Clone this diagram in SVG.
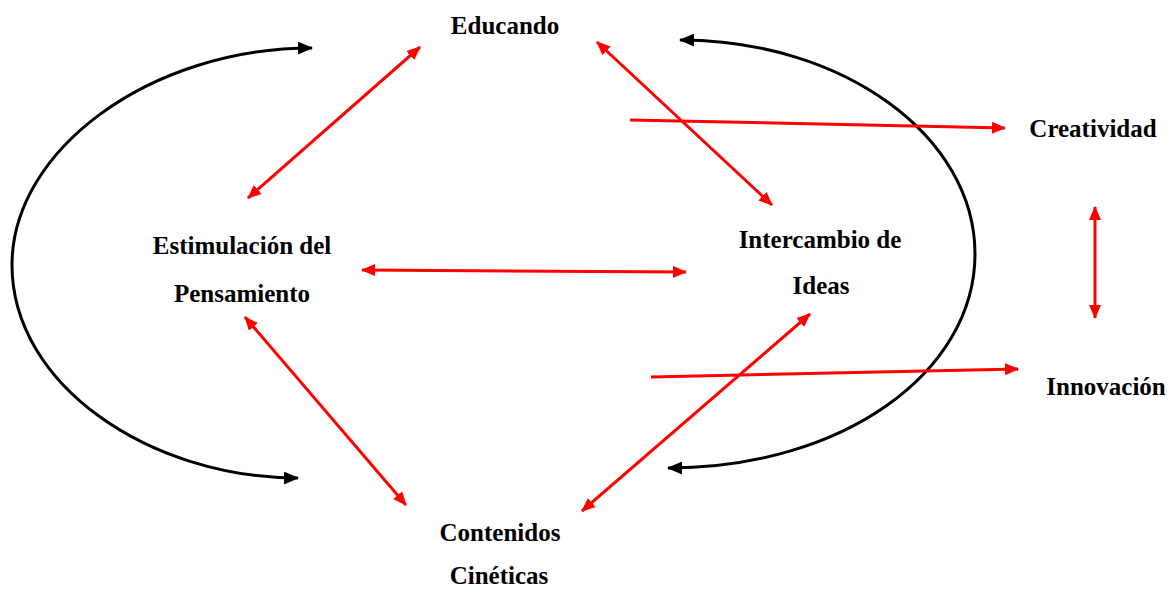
<svg xmlns="http://www.w3.org/2000/svg" width="1174" height="589" viewBox="0 0 1174 589">
<style>
.lbl{font-family:"Liberation Serif","Times New Roman",serif;font-weight:bold;font-size:25px;fill:#000;text-anchor:middle}
.red{stroke:#ff0000;stroke-width:3;fill:none}
.blk{stroke:#000;stroke-width:3;fill:none}
</style>
<defs>
<marker id="ar" viewBox="0 0 14 12" refX="13" refY="6" markerWidth="14" markerHeight="12" markerUnits="userSpaceOnUse" orient="auto-start-reverse"><path d="M0,0 L14,6 L0,12 z" fill="#ff0000"/></marker>
<marker id="ab" viewBox="0 0 14 12" refX="13" refY="6" markerWidth="15" markerHeight="13" markerUnits="userSpaceOnUse" orient="auto-start-reverse"><path d="M0,0 L14,6 L0,12 z" fill="#000"/></marker>
</defs>
<rect width="1174" height="589" fill="#fff"/>
<g id="connectors">
<path class="blk" d="M312,48 C150,48 12,150 12,265 C12,385 150,478 298,478" marker-start="url(#ab)" marker-end="url(#ab)"/>
<path class="blk" d="M680,40 C843,40 975,136 975,254 C975,372 843,468 668,468" marker-start="url(#ab)" marker-end="url(#ab)"/>
<line class="red" x1="248" y1="198" x2="420" y2="47" marker-start="url(#ar)" marker-end="url(#ar)"/>
<line class="red" x1="597" y1="42" x2="772" y2="205" marker-start="url(#ar)" marker-end="url(#ar)"/>
<line class="red" x1="630" y1="120" x2="1005" y2="128" marker-end="url(#ar)"/>
<line class="red" x1="362" y1="270" x2="686" y2="272" marker-start="url(#ar)" marker-end="url(#ar)"/>
<line class="red" x1="1095" y1="207" x2="1095" y2="318" marker-start="url(#ar)" marker-end="url(#ar)"/>
<line class="red" x1="651" y1="377" x2="1018" y2="369" marker-end="url(#ar)"/>
<line class="red" x1="245" y1="317" x2="406" y2="505" marker-start="url(#ar)" marker-end="url(#ar)"/>
<line class="red" x1="582" y1="511" x2="810" y2="314" marker-start="url(#ar)" marker-end="url(#ar)"/>
</g>
<g id="educando"><text class="lbl" x="505" y="34">Educando</text></g>
<g id="creatividad"><text class="lbl" x="1093" y="137">Creatividad</text></g>
<g id="estimulacion"><text class="lbl" x="242" y="254">Estimulación del</text><text class="lbl" x="242" y="302">Pensamiento</text></g>
<g id="intercambio"><text class="lbl" x="820" y="248">Intercambio de</text><text class="lbl" x="821" y="294">Ideas</text></g>
<g id="innovacion"><text class="lbl" x="1106" y="395">Innovación</text></g>
<g id="contenidos"><text class="lbl" x="500" y="541">Contenidos</text><text class="lbl" x="499" y="584">Cinéticas</text></g>
</svg>
